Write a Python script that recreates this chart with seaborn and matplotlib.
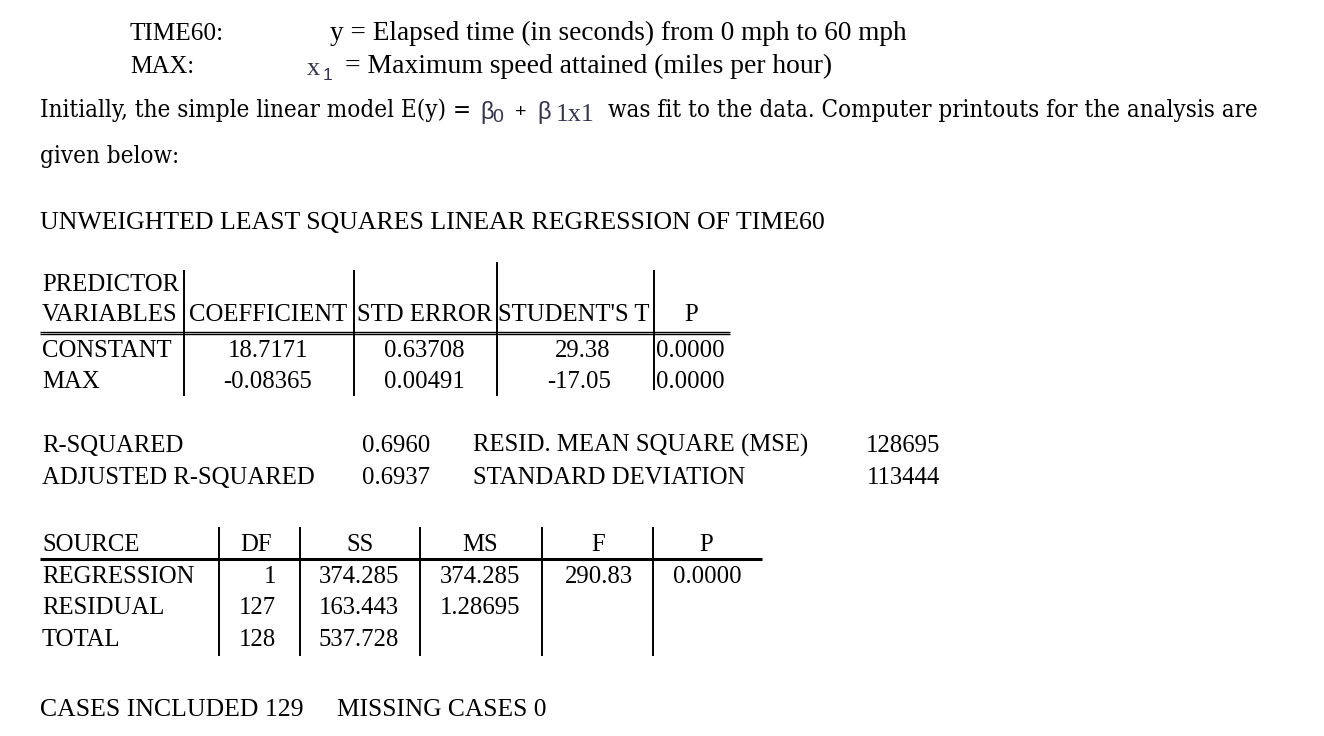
import seaborn as sns
import matplotlib.pyplot as plt
from matplotlib import font_manager

# Dados da saida de regressao
var_labels = ["TIME60:", "MAX:"]
var_desc = ["y = Elapsed time (in seconds) from 0 mph to 60 mph",
            "= Maximum speed attained (miles per hour)"]

coef_header = ["COEFFICIENT", "STD ERROR", "STUDENT'S T", "P"]
predictors = ["CONSTANT", "MAX"]
coef = ["18.7171", "-0.08365"]
std_err = ["0.63708", "0.00491"]
t_stat = ["29.38", "-17.05"]
p_coef = ["0.0000", "0.0000"]

fit_labels = ["R-SQUARED", "ADJUSTED R-SQUARED"]
fit_values = ["0.6960", "0.6937"]
err_labels = ["RESID. MEAN SQUARE (MSE)", "STANDARD DEVIATION"]
err_values = ["128695", "113444"]

anova_header = ["SOURCE", "DF", "SS", "MS", "F", "P"]
sources = ["REGRESSION", "RESIDUAL", "TOTAL"]
df_vals = ["1", "127", "128"]
ss_vals = ["374.285", "163.443", "537.728"]
ms_vals = ["374.285", "1.28695", ""]
f_vals = ["290.83", "", ""]
p_vals = ["0.0000", "", ""]

cases_included = 129
missing_cases = 0

sns.set_theme(style="white")
plt.rcParams['font.family'] = ['Liberation Serif', 'DejaVu Serif']

fig = plt.figure(figsize=(13.24, 7.36), dpi=100)
ax = fig.add_axes([0, 0, 1, 1])
ax.set_xlim(0, 1324)
ax.set_ylim(736, 0)
ax.axis('off')
renderer = fig.canvas.get_renderer()

TS = 17.8  # tamanho da fonte das tabelas
SYM = '#34344f'  # cor dos simbolos colados (x1, beta)

# DejaVu Serif condensada se existir, parecida com Palatino
cond = font_manager.findfont(font_manager.FontProperties(family='DejaVu Serif', stretch='condensed'))
PAL_STRETCH = 'condensed' if 'Condensed' in cond else 'normal'


def put(x, y, s, w=None, size=TS, ha='left', family=None, color='black', stretch='normal'):
    # escreve o texto; se w for dado, ajusta o tamanho para a largura (pixels)
    kw = {}
    if family:
        kw['family'] = family
    t = ax.text(x, y, s, fontsize=size, ha=ha, va='baseline', color=color,
                fontstretch=stretch, **kw)
    if w and s:
        bw = t.get_window_extent(renderer).width
        t.set_fontsize(size * w / bw)
    return t


# cabecalho com as variaveis
put(130, 40, var_labels[0], w=94, size=17)
put(330, 40, var_desc[0], w=576, size=17)
put(130, 73, var_labels[1], w=64, size=17)
put(307, 75, "x", size=19, color=SYM)
put(323, 80, "1", size=12.5, family='Liberation Sans', color=SYM)
put(345, 73, var_desc[1], w=487, size=17)

# paragrafo com o modelo
t1 = put(608, 117, "was fit to the data. Computer printouts for the analysis are",
         w=647, size=17, family='DejaVu Serif', stretch=PAL_STRETCH)
ps = t1.get_fontsize()
put(40, 117, "Initially, the simple linear model E(y) = ", size=ps,
    family='DejaVu Serif', stretch=PAL_STRETCH)
put(480, 119, "β", size=17, family='Liberation Sans', color=SYM)
put(492, 122, "0", size=14, family='Liberation Sans', color=SYM)
put(515, 117, "+", size=14, family='Liberation Sans')
put(537, 119, "β", size=17, family='Liberation Sans', color=SYM)
put(556, 121, "1x1", w=39, size=18, color=SYM)
put(40, 163, "given below:", size=ps, family='DejaVu Serif', stretch=PAL_STRETCH)

put(40, 229, "UNWEIGHTED LEAST SQUARES LINEAR REGRESSION OF TIME60", w=786, size=17)

# tabela de coeficientes
put(42, 291, "PREDICTOR")
put(42, 321, "VARIABLES")
for c, s in zip([268, 425, 574, 691], coef_header):
    put(c, 321, s, ha='center')
for i, y in enumerate([357, 388]):
    put(42, y, predictors[i])
    put(268, y, coef[i], ha='center')
    put(424, y, std_err[i], ha='center')
    put(611, y, t_stat[i], ha='right')
    put(656, y, p_coef[i])
for x, top in zip([184, 354, 497, 654], [270, 270, 262, 270]):
    ax.vlines(x, top, 396 if x != 654 else 390, color='black', lw=1.4)
ax.hlines([331.5, 333.5], 40, 730, color='black', lw=1.0)

# estatisticas do ajuste
for i, y in enumerate([452, 484]):
    put(42, y, fit_labels[i])
    put(430, y, fit_values[i], ha='right')
    put(473, y, err_labels[i])
    put(940, y, err_values[i], ha='right')

# tabela ANOVA
put(42, 551, anova_header[0])
for c, s in zip([256, 360, 480, 598, 706], anova_header[1:]):
    put(c, 551, s, ha='center')
for i, y in enumerate([583, 614, 646]):
    put(42, y, sources[i])
    put(276, y, df_vals[i], ha='right')
    put(319, y, ss_vals[i])
    if ms_vals[i]:
        put(440, y, ms_vals[i])
    if f_vals[i]:
        put(565, y, f_vals[i])
    if p_vals[i]:
        put(673, y, p_vals[i])
for x in [219, 300, 420, 542, 653]:
    ax.vlines(x, 527, 656, color='black', lw=1.4)
ax.hlines(559, 40, 762, color='black', lw=2.2)

put(40, 716, f"CASES INCLUDED {cases_included}", w=263, size=17)
put(337, 716, f"MISSING CASES {missing_cases}", w=210, size=17)

plt.savefig("out.png", dpi=100, facecolor='white')
